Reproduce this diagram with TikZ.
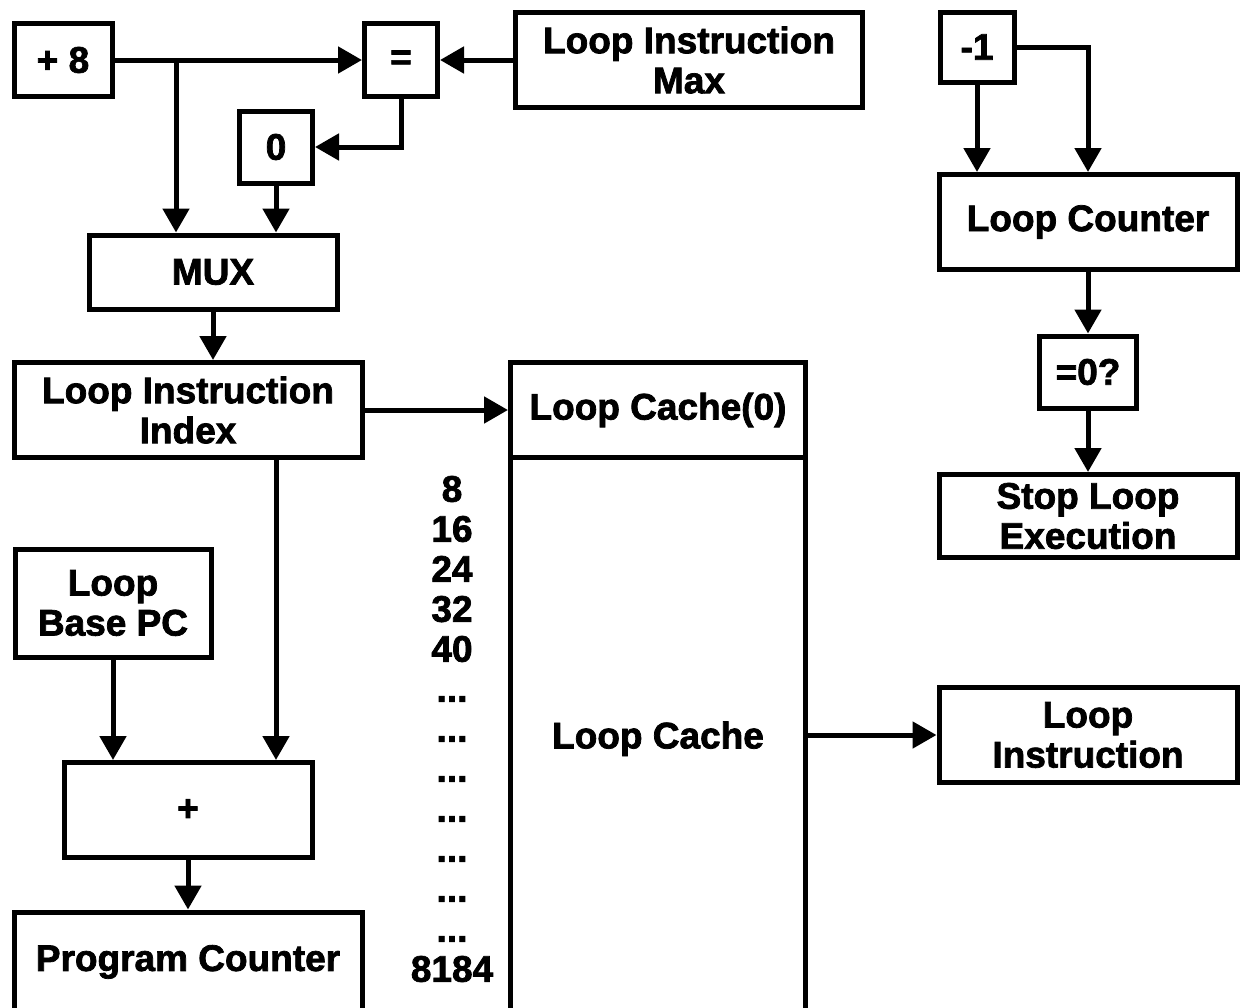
\documentclass[tikz,border=0pt]{standalone}
\usepackage{fontspec}
\setmainfont{Liberation Sans}[BoldFeatures={FakeBold=2}]
\usetikzlibrary{arrows.meta, positioning, calc}
\tikzset{
	blk/.style ={rectangle, draw=black, line width=5pt, align=center, inner sep=0pt, fill=white},
	sig/.style ={-{Triangle[length=24pt, width=26pt]}, line width=5pt},
	addr/.style={align=center, inner sep=0pt},
}
\begin{document}
\begin{tikzpicture}[x=1pt, y=-1pt, font=\fontsize{37}{40}\selectfont\bfseries]
	\useasboundingbox (0,0) rectangle (1241,1007);
	\fill[white] (0,0) rectangle (1241,1007);
	\clip (0,0) rectangle (1241,1007);
	% index path
	\node[blk, minimum width=98, minimum height=73] (plus8) at (63,60) {+ 8};
	\node[blk, minimum width=73, minimum height=73] (eqcmp) at (401,60) {=};
	\node[blk, minimum width=73, minimum height=72] (zero) at (276,147) {0};
	\node[blk, minimum width=347, minimum height=95] (limax) at (689,60) {Loop Instruction\\Max};
	\node[blk, minimum width=248, minimum height=74] (mux) at (213,272) {MUX};
	\node[blk, minimum width=348, minimum height=95] (lii) at (188,410) {Loop Instruction\\Index};
	\node[blk, minimum width=196, minimum height=108] (lbpc) at (113,603) {Loop\\Base PC};
	\node[blk, minimum width=248, minimum height=95] (plus) at (188,810) {+};
	\node[blk, minimum width=348, minimum height=120] (pc) at (188,972) {\raisebox{28pt}{Program Counter}};
	% cache
	\node[blk, minimum width=295, minimum height=570] (lcache) at (658,742.5) {\raisebox{15pt}{Loop Cache}};
	\node[blk, minimum width=295, minimum height=95] (lc0) at (658,410) {Loop Cache(0)};
	\node[addr] (offsets) at (452,729) {8\\16\\24\\32\\40\\...\\...\\...\\...\\...\\...\\...\\8184};
	% counter path
	\node[blk, minimum width=74, minimum height=70] (neg1) at (977,47) {-1};
	\node[blk, minimum width=298, minimum height=95] (lcnt) at (1088,222) {Loop Counter};
	\node[blk, minimum width=97, minimum height=72] (eqz) at (1088,372) {=0?};
	\node[blk, minimum width=298, minimum height=83] (stop) at (1088,516) {Stop Loop\\Execution};
	\node[blk, minimum width=298, minimum height=95] (linst) at (1088,735) {Loop\\Instruction};
	\coordinate (split) at (176,60);
	% connectors
	\draw[sig] (plus8.east) -- (eqcmp.west);
	\draw[sig] (limax.west) -- (eqcmp.east);
	\draw[sig] (split) -- (split |- mux.north);
	\draw[sig] (eqcmp.south) |- (zero.east);
	\draw[sig] (zero.south) -- (zero.south |- mux.north);
	\draw[sig] (mux.south) -- (mux.south |- lii.north);
	\draw[sig] (lii.east) -- (lc0.west);
	\draw[sig] ([xshift=88pt]lii.south) -- ([xshift=88pt]lii.south |- plus.north);
	\draw[sig] (lbpc.south) -- (lbpc.south |- plus.north);
	\draw[sig] (plus.south) -- (pc.north);
	\draw[sig] (lcache.east |- linst.west) -- (linst.west);
	\draw[sig] (neg1.south) -- (neg1.south |- lcnt.north);
	\draw[sig] (neg1.east) -| (lcnt.north);
	\draw[sig] (lcnt.south) -- (eqz.north);
	\draw[sig] (eqz.south) -- (stop.north);
\end{tikzpicture}
\end{document}
